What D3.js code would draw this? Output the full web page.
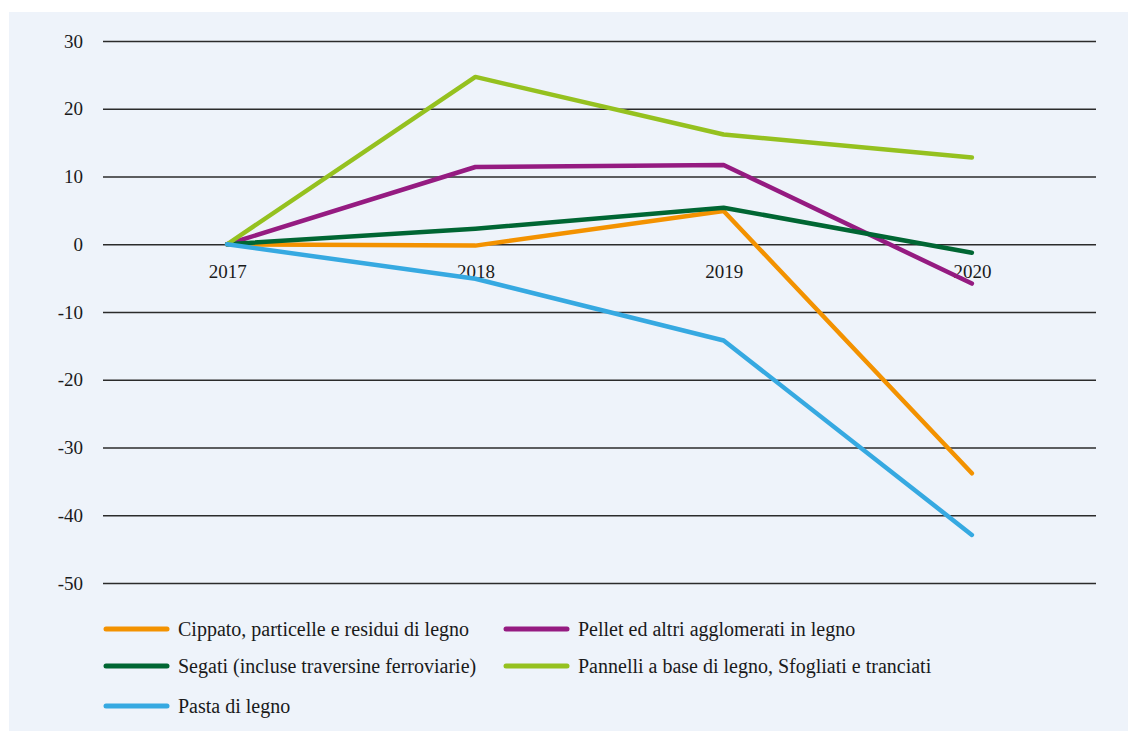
<!DOCTYPE html>
<html><head><meta charset="utf-8">
<script src="https://cdn.jsdelivr.net/npm/d3@7"></script>
<style>html,body{margin:0;padding:0;background:#fff;} svg{display:block;} svg text{font-family:"Liberation Serif","DejaVu Serif",serif;}</style>
</head><body>
<svg id="chart" width="1128" height="732"></svg>
<script>
const years = ["2017", "2018", "2019", "2020"];
const yTicks = [30, 20, 10, 0, -10, -20, -30, -40, -50];
const seriesNames = [
  "Cippato, particelle e residui di legno",
  "Pellet ed altri agglomerati in legno",
  "Segati (incluse traversine ferroviarie)",
  "Pannelli a base di legno, Sfogliati e tranciati",
  "Pasta di legno"
];
const cippato = [0, -0.2, 4.9, -33.8];
const pellet = [0, 11.4, 11.7, -5.8];
const segati = [0, 2.3, 5.4, -1.25];
const pannelli = [0, 24.7, 16.2, 12.8];
const pasta = [0, -5.1, -14.2, -42.9];
const seriesColors = ["#F39200", "#951B81", "#006633", "#95C11F", "#36A9E1"];

const series = [cippato, pellet, segati, pannelli, pasta].map((v, i) => ({name: seriesNames[i], values: v, color: seriesColors[i]}));

const svg = d3.select("#chart");

svg.append("rect").attr("x", 9).attr("y", 12).attr("width", 1119).attr("height", 719).attr("fill", "#EEF3FA");

const x = d3.scalePoint().domain(years).range([103, 1096]).padding(0.5);
const y = d3.scaleLinear().domain([-50, 30]).range([583, 41]);

// gridlines + y labels
const yAxis = d3.axisLeft(y).tickValues(yTicks).tickSize(-(1096 - 103)).tickPadding(20).tickFormat(d => String(d));
const gy = svg.append("g").attr("transform", "translate(103,0)").call(yAxis);
gy.attr("font-family", null);
gy.select(".domain").remove();
gy.selectAll(".tick line").attr("stroke", "#2b2b2b").attr("stroke-width", 1.3);
gy.selectAll(".tick text").attr("font-size", 19).attr("fill", "#1a1a1a");

// x labels along zero line
const xAxis = d3.axisBottom(x).tickSize(0).tickPadding(20);
const gx = svg.append("g").attr("transform", `translate(0,${y(0)})`).call(xAxis);
gx.attr("font-family", null);
gx.select(".domain").remove();
gx.selectAll(".tick text").attr("font-size", 19).attr("fill", "#1a1a1a");

const line = d3.line().x((d, i) => x(years[i])).y(d => y(d));
svg.append("g").selectAll("path").data(series).join("path")
  .attr("d", d => line(d.values))
  .attr("fill", "none").attr("stroke", d => d.color)
  .attr("stroke-width", 4.5).attr("stroke-linecap", "round").attr("stroke-linejoin", "round");

// legend
const legendPos = [[106, 629], [506, 629], [106, 666], [506, 666], [106, 706]];
const lg = svg.append("g").selectAll("g").data(series).join("g")
  .attr("transform", (d, i) => `translate(${legendPos[i][0]},${legendPos[i][1]})`);
lg.append("line").attr("x1", 0).attr("x2", 61).attr("y1", 0).attr("y2", 0)
  .attr("stroke", d => d.color).attr("stroke-width", 5).attr("stroke-linecap", "round");
lg.append("text").attr("x", 72).attr("y", 0).attr("dy", "0.35em")
  .attr("font-size", 20).attr("fill", "#1a1a1a").text(d => d.name);
</script>
</body></html>
